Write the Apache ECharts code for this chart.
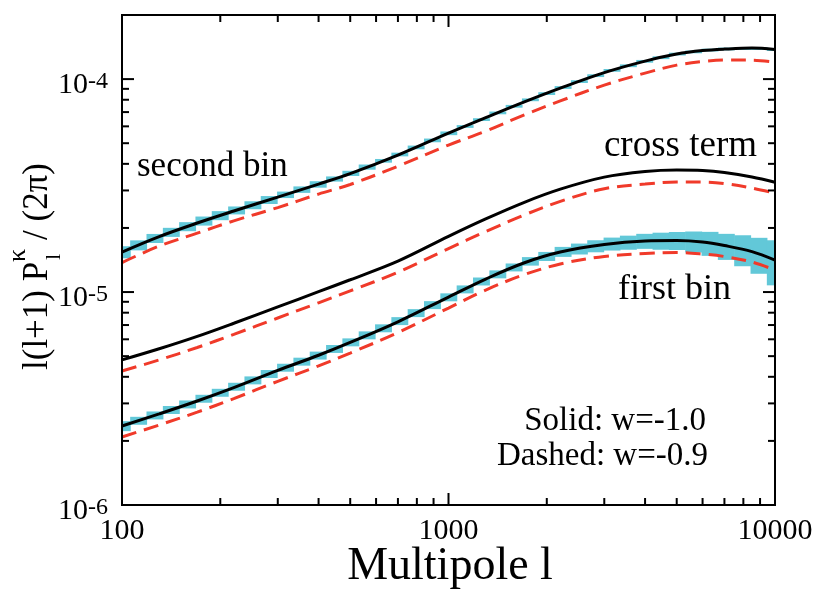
<!DOCTYPE html>
<html><head><meta charset="utf-8">
<script src="https://cdn.jsdelivr.net/npm/echarts@6/dist/echarts.min.js"></script>
<style>html,body{margin:0;padding:0;background:#fff}#c{width:817px;height:590px}</style>
</head><body><div id="c"></div>
<script>
// ---- data ----
const curveL = [100,130,170,220,300,400,500,700,1000,1300,1700,2200,3000,4000,5000,6000,7000,8500,10000];
const secondSolid  = [1.541e-5,1.822e-5,2.109e-5,2.401e-5,2.792e-5,3.214e-5,3.601e-5,4.398e-5,5.578e-5,6.595e-5,7.798e-5,9.073e-5,1.073e-4,1.215e-4,1.311e-4,1.361e-4,1.383e-4,1.398e-4,1.376e-4];
const secondDashed = [1.376e-5,1.644e-5,1.89e-5,2.16e-5,2.493e-5,2.885e-5,3.20e-5,3.90e-5,4.90e-5,5.70e-5,6.777e-5,7.90e-5,9.371e-5,1.067e-4,1.163e-4,1.209e-4,1.228e-4,1.228e-4,1.202e-4];
const crossSolid   = [4.80e-6,5.415e-6,6.193e-6,7.137e-6,8.518e-6,1.004e-5,1.142e-5,1.397e-5,1.826e-5,2.205e-5,2.632e-5,3.041e-5,3.464e-5,3.68e-5,3.74e-5,3.72e-5,3.64e-5,3.47e-5,3.28e-5];
const crossDashed  = [4.257e-6,4.802e-6,5.492e-6,6.329e-6,7.554e-6,8.904e-6,1.013e-5,1.239e-5,1.601e-5,1.924e-5,2.296e-5,2.667e-5,3.057e-5,3.214e-5,3.284e-5,3.284e-5,3.232e-5,3.079e-5,2.916e-5];
const firstSolid   = [2.349e-6,2.678e-6,3.079e-6,3.557e-6,4.285e-6,5.05e-6,5.80e-6,7.25e-6,9.474e-6,1.151e-5,1.369e-5,1.541e-5,1.671e-5,1.736e-5,1.745e-5,1.717e-5,1.653e-5,1.549e-5,1.413e-5];
const firstDashed  = [2.086e-6,2.375e-6,2.73e-6,3.16e-6,3.81e-6,4.50e-6,5.17e-6,6.45e-6,8.413e-6,1.022e-5,1.205e-5,1.355e-5,1.470e-5,1.516e-5,1.533e-5,1.508e-5,1.468e-5,1.383e-5,1.269e-5];

const binCenters = [100,112.2,125.9,141.3,158.5,177.8,199.5,223.9,251.2,281.8,316.2,354.8,398.1,446.7,501.2,562.3,631,707.9,794.3,891.3,1000,1122,1259,1413,1585,1778,1995,2239,2512,2818,3162,3548,3981,4467,5012,5623,6310,7079,7943,8913,10000];
const firstBinVals = [2.349e-6,2.488e-6,2.636e-6,2.796e-6,2.969e-6,3.157e-6,3.368e-6,3.595e-6,3.851e-6,4.126e-6,4.416e-6,4.715e-6,5.035e-6,5.409e-6,5.81e-6,6.266e-6,6.763e-6,7.31e-6,7.97e-6,8.69e-6,9.454e-6,1.030e-5,1.122e-5,1.212e-5,1.306e-5,1.395e-5,1.471e-5,1.546e-5,1.595e-5,1.644e-5,1.684e-5,1.710e-5,1.736e-5,1.740e-5,1.745e-5,1.729e-5,1.698e-5,1.646e-5,1.585e-5,1.508e-5,1.413e-5];
const firstBinErr  = [0.054,0.043,0.043,0.043,0.043,0.043,0.043,0.043,0.043,0.043,0.043,0.043,0.043,0.043,0.043,0.043,0.043,0.043,0.043,0.043,0.043,0.043,0.043,0.043,0.043,0.046,0.049,0.054,0.059,0.065,0.070,0.076,0.081,0.092,0.097,0.113,0.129,0.140,0.166,0.192,0.239];
const secondBinVals = [1.541e-5,1.659e-5,1.787e-5,1.909e-5,2.030e-5,2.157e-5,2.287e-5,2.419e-5,2.559e-5,2.707e-5,2.863e-5,3.028e-5,3.203e-5,3.396e-5,3.609e-5,3.863e-5,4.134e-5,4.426e-5,4.778e-5,5.155e-5,5.566e-5,5.991e-5,6.455e-5,6.939e-5,7.453e-5,7.994e-5,8.550e-5,9.133e-5,9.734e-5,1.038e-4,1.099e-4,1.155e-4,1.212e-4,1.260e-4,1.311e-4,1.342e-4,1.369e-4,1.385e-4,1.392e-4,1.392e-4,1.376e-4];
const secondBinErr  = [0.065,0.054,0.049,0.049,0.049,0.049,0.049,0.043,0.043,0.043,0.035,0.035,0.035,0.028,0.028,0.028,0.02,0.02,0.02,0.02,0.02,0.015,0.015,0.015,0.015,0.015,0.015,0.015,0.015,0.015,0.015,0.015,0.015,0.015,0.015,0.015,0.015,0.015,0.015,0.015,0.015];
const BIN_HALF_DEX = 0.025;

const xMajorTicks = [100,1000,10000];
const xMinorTicks = [200,300,400,500,600,700,800,900,2000,3000,4000,5000,6000,7000,8000,9000];
const yMajorTicks = [1e-6,1e-5,1e-4];
const yMinorTicks = [2e-6,3e-6,4e-6,5e-6,6e-6,7e-6,8e-6,9e-6,2e-5,3e-5,4e-5,5e-5,6e-5,7e-5,8e-5,9e-5];

// ---- styles ----
const SERIF = '"Liberation Serif","Times New Roman",serif';
const CYAN = '#62c8d8';
const RED = '#f03a2a';
const BLACK = '#000';

function pairs(xs, ys){ return xs.map((x,i)=>[x, ys[i]]); }
function boxData(vals, errs){ return binCenters.map((l,i)=>[l, vals[i], errs[i]]); }

function boxRender(params, api){
  const l = api.value(0), v = api.value(1), s = api.value(2);
  const f = Math.pow(10, BIN_HALF_DEX);
  const p1 = api.coord([l / f, v * (1 + s)]);
  const p2 = api.coord([l * f, v * (1 - s)]);
  return {type:'rect', shape:{x:p1[0], y:p1[1], width:p2[0]-p1[0]+0.6, height:p2[1]-p1[1]}, style:{fill:CYAN}};
}

function tickRender(params, api){
  const cs = params.coordSys;
  const left = cs.x, right = cs.x + cs.width, top = cs.y, bottom = cs.y + cs.height;
  const children = [];
  const st = {stroke:BLACK, lineWidth:2};
  function xt(v, len){
    const px = api.coord([v, 1e-5])[0];
    children.push({type:'line', shape:{x1:px,y1:bottom,x2:px,y2:bottom-len}, style:st});
    children.push({type:'line', shape:{x1:px,y1:top,x2:px,y2:top+len}, style:st});
  }
  function yt(v, len){
    const py = api.coord([1000, v])[1];
    children.push({type:'line', shape:{x1:left,y1:py,x2:left+len,y2:py}, style:st});
    children.push({type:'line', shape:{x1:right,y1:py,x2:right-len,y2:py}, style:st});
  }
  xMajorTicks.forEach(v=>xt(v,12)); xMinorTicks.forEach(v=>xt(v,7));
  yMajorTicks.forEach(v=>yt(v,12)); yMinorTicks.forEach(v=>yt(v,7));
  return {type:'group', children};
}

const solidStyle = {color:BLACK, width:3, type:'solid'};
const dashStyle = {color:RED, width:3, type:[15,8]};
function lineSeries(name, ys, style){
  return {name, type:'line', data:pairs(curveL, ys), smooth:0.35, showSymbol:false, symbol:'none',
    lineStyle:style, z:5, silent:true, animation:false};
}

const chart = echarts.init(document.getElementById('c'), null, {renderer:'canvas'});
chart.setOption({
  animation:false,
  backgroundColor:'#fff',
  grid:{left:122, right:42, top:15, bottom:85, show:true, borderColor:BLACK, borderWidth:2, backgroundColor:'transparent', z:10},
  xAxis:{type:'log', logBase:10, min:100, max:10000,
    axisLine:{show:false}, axisTick:{show:false}, splitLine:{show:false}, minorTick:{show:false},
    axisLabel:{fontFamily:SERIF, fontSize:30, color:BLACK, margin:11,
      formatter:v=>{const e=Math.log10(v); return Math.abs(e-Math.round(e))<1e-6 ? String(Math.round(v)) : '';}}},
  yAxis:{type:'log', logBase:10, min:1e-6, max:2e-4,
    axisLine:{show:false}, axisTick:{show:false}, splitLine:{show:false}, minorTick:{show:false},
    axisLabel:{margin:14, color:BLACK, padding:[12,0,0,0],
      formatter:v=>{const e=Math.log10(v); const r=Math.round(e); return Math.abs(e-r)<1e-6 ? '{b|10}{s|'+r+'}' : '';},
      rich:{
        b:{fontFamily:SERIF, fontSize:30, lineHeight:30, padding:[8,0,0,0], verticalAlign:'bottom', color:BLACK},
        s:{fontFamily:SERIF, fontSize:24, lineHeight:24, verticalAlign:'top', color:BLACK}
      }}},
  series:[
    {type:'custom', name:'firstBox', renderItem:boxRender, data:boxData(firstBinVals, firstBinErr), clip:true, z:2, silent:true},
    {type:'custom', name:'secondBox', renderItem:boxRender, data:boxData(secondBinVals, secondBinErr), clip:true, z:2, silent:true},
    lineSeries('second bin w=-0.9', secondDashed, dashStyle),
    lineSeries('cross w=-0.9', crossDashed, dashStyle),
    lineSeries('first bin w=-0.9', firstDashed, dashStyle),
    lineSeries('second bin w=-1.0', secondSolid, solidStyle),
    lineSeries('cross w=-1.0', crossSolid, solidStyle),
    lineSeries('first bin w=-1.0', firstSolid, solidStyle),
    {type:'custom', name:'ticks', renderItem:tickRender, data:[[1000,1e-5]], z:12, silent:true}
  ],
  graphic:[
    {type:'text', x:137, y:167, style:{text:'second bin', font:'35px '+SERIF, fill:BLACK, textAlign:'left', textVerticalAlign:'middle'}},
    {type:'text', x:757, y:146, style:{text:'cross term', font:'37px '+SERIF, fill:BLACK, textAlign:'right', textVerticalAlign:'middle'}},
    {type:'text', x:731, y:290, style:{text:'first bin', font:'36px '+SERIF, fill:BLACK, textAlign:'right', textVerticalAlign:'middle'}},
    {type:'text', x:706, y:421, style:{text:'Solid: w=-1.0', font:'33px '+SERIF, fill:BLACK, textAlign:'right', textVerticalAlign:'middle'}},
    {type:'text', x:708, y:456, style:{text:'Dashed: w=-0.9', font:'33px '+SERIF, fill:BLACK, textAlign:'right', textVerticalAlign:'middle'}},
    {type:'text', x:450, y:567, style:{text:'Multipole l', font:'46px '+SERIF, fill:BLACK, textAlign:'center', textVerticalAlign:'middle'}},
    {type:'group', x:48, y:370, rotation:Math.PI/2, children:[
      {type:'text', x:0, y:-10, style:{text:'l(l+1) P', font:'35px '+SERIF, fill:BLACK, textAlign:'left', textVerticalAlign:'middle'}},
      {type:'text', x:110, y:6, style:{text:'l', font:'22px '+SERIF, fill:BLACK, textAlign:'left', textVerticalAlign:'middle'}},
      {type:'text', x:108, y:-30, style:{text:'κ', font:'26px '+SERIF, fill:BLACK, textAlign:'left', textVerticalAlign:'middle'}},
      {type:'text', x:130, y:-10, style:{text:'/ (2π)', font:'35px '+SERIF, fill:BLACK, textAlign:'left', textVerticalAlign:'middle'}}
    ]}
  ]
});
</script></body></html>
